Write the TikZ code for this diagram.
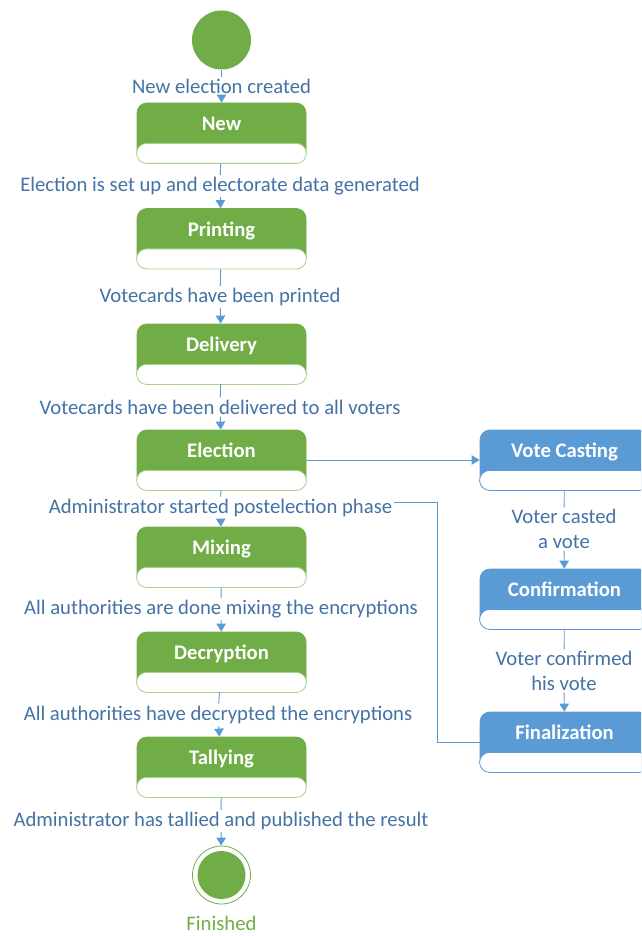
\documentclass[tikz,border=0pt]{standalone}
\usepackage{fontspec}
\setmainfont{Carlito}
\usetikzlibrary{arrows.meta}
\definecolor{gfill}{HTML}{70AD47}
\definecolor{gline}{HTML}{A9D18E}
\definecolor{bfill}{HTML}{5B9BD5}
\definecolor{lblue}{HTML}{4472A4}
\definecolor{conn}{HTML}{5B9BD5}
\begin{document}
\begin{tikzpicture}[x=1pt,y=-1pt,
  statebase/.style={minimum width=169pt, minimum height=60pt, inner sep=0pt,
    rounded corners=10pt, line width=0.8pt, font=\fontsize{20.7}{24}\selectfont\bfseries,
    text=white, text height=14pt, text depth=19pt},
  gstate/.style={statebase, fill=gfill, draw=gfill},
  bstate/.style={statebase, fill=bfill, draw=bfill},
  glower/.style={fill=white, draw=gline, line width=0.8pt, rounded corners=10pt},
  blower/.style={fill=white, draw=bfill, line width=0.8pt, rounded corners=10pt},
  lbl/.style={text=lblue, font=\fontsize{20.7}{24.5}\selectfont, inner sep=2pt, align=center},
  conn/.style={draw=conn, line width=0.9pt},
  arr/.style={conn, -{Triangle[length=8pt,width=9.5pt]}}
]
\clip (0,0) rectangle (641,936);
\useasboundingbox (0,0) rectangle (641,936);

% start and end
\node[circle, fill=gfill, minimum size=59pt, inner sep=0pt] (start) at (221.5,40) {};
\node[circle, fill=white, draw=gfill, line width=0.8pt, minimum size=58pt, inner sep=0pt] (finish) at (221.5,875) {};
\node[circle, fill=gfill, minimum size=48pt, inner sep=0pt] (finishin) at (221.5,875) {};
\node[lbl, text=gfill] (finlbl) at (221.5,923) {Finished};

% states
\node[gstate] (new) at (221.5,133) {New};
\node[gstate] (printing) at (221.5,238.5) {Printing};
\node[gstate] (delivery) at (221.5,354) {Delivery};
\node[gstate] (election) at (221.5,460) {Election};
\node[gstate] (mixing) at (221.5,557) {Mixing};
\node[gstate] (decryption) at (221.5,662) {Decryption};
\node[gstate] (tallying) at (221.5,767) {Tallying};
\node[bstate] (casting) at (564.5,460) {Vote Casting};
\node[bstate] (confirm) at (564.5,599) {Confirmation};
\node[bstate] (final) at (564.5,742) {Finalization};

\foreach \n in {new,printing,delivery,election,mixing,decryption,tallying}
  \draw[glower] (\n.south west) rectangle ([yshift=20pt]\n.south east);
\foreach \n in {casting,confirm,final}
  \draw[blower] (\n.south west) rectangle ([yshift=20pt]\n.south east);

% labels
\node[lbl] (l0) at (221.5,86) {New election created};
\node[lbl] (l1) at (220,186) {Election is set up and electorate data generated};
\node[lbl] (l2) at (220,297) {Votecards have been printed};
\node[lbl] (l3) at (220,407) {Votecards have been delivered to all voters};
\node[lbl] (l4) at (220.5,508) {Administrator started postelection phase};
\node[lbl] (l5) at (221,609) {All authorities are done mixing the encryptions};
\node[lbl] (l6) at (218,715) {All authorities have decrypted the encryptions};
\node[lbl] (l7) at (221,821) {Administrator has tallied and published the result};
\node[lbl] (r1) at (564,529) {Voter casted\\a vote};
\node[lbl] (r2) at (564,671) {Voter confirmed\\his vote};

% connectors
\draw[conn] (start) -- (l0);  \draw[arr] (l0) -- (new);
\draw[conn] (new) -- (l1);    \draw[arr] (l1) -- (printing);
\draw[conn] (printing) -- (l2); \draw[arr] (l2) -- (delivery);
\draw[conn] (delivery) -- (l3); \draw[arr] (l3) -- (election);
\draw[conn] (election) -- (l4); \draw[arr] (l4) -- (mixing);
\draw[conn] (mixing) -- (l5); \draw[arr] (l5) -- (decryption);
\draw[conn] (decryption) -- (l6); \draw[arr] (l6) -- (tallying);
\draw[conn] (tallying) -- (l7); \draw[arr] (l7) -- (finish);
\draw[arr] (election.east) -- (casting.west);
\draw[conn] (casting) -- (r1); \draw[arr] (r1) -- (confirm);
\draw[conn] (confirm) -- (r2); \draw[arr] (r2) -- (final);
\coordinate (bend) at (437,502);
\draw[conn] (final.west) -| (bend) -- (bend -| l4.east);
\end{tikzpicture}
\end{document}
